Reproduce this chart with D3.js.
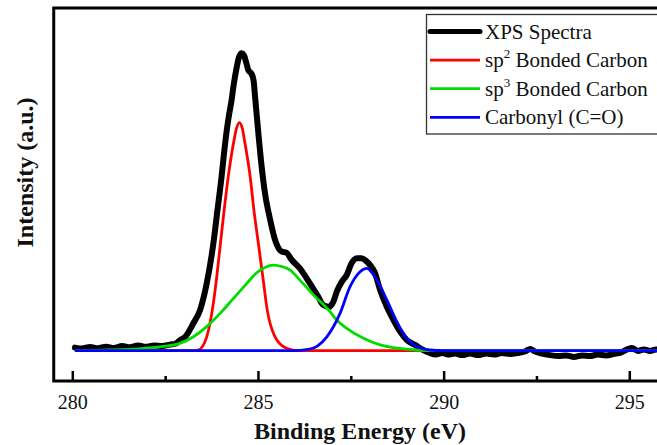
<!DOCTYPE html>
<html>
<head>
<meta charset="utf-8">
<script src="https://cdn.jsdelivr.net/npm/d3@7"></script>
<style>
  html, body { margin: 0; padding: 0; background: #fff; }
  svg { display: block; }
  text { font-family: "Liberation Serif", "Times New Roman", serif; fill: #111; }
</style>
</head>
<body>
<svg id="chart" width="657" height="445"></svg>
<script>
// ---------------- data (energy in eV, intensity in a.u.) ----------------
const xpsSpectrum = [
  [280.07,1.0],[280.26,0.7],[280.48,1.2],[280.69,0.8],[280.91,1.3],[281.12,0.9],[281.34,1.5],
  [281.55,1.1],[281.77,1.7],[281.98,1.3],[282.20,1.7],[282.42,1.5],[282.63,2.0],[282.79,2.4],
  [282.90,3.5],[283.04,4.6],[283.26,9.1],[283.44,13.5],[283.62,22.4],[283.80,35.8],[283.91,46.9],
  [284.02,58.0],[284.09,66.2],[284.16,73.5],[284.22,78.5],[284.29,83.5],[284.35,88.9],[284.43,94.6],
  [284.49,97.9],[284.56,99.1],[284.62,98.5],[284.68,96.2],[284.74,93.5],[284.83,92.2],[284.88,90.2],
  [284.93,83.5],[285.01,72.5],[285.08,63.5],[285.19,52.4],[285.33,43.5],[285.46,36.9],[285.59,33.5],
  [285.67,32.9],[285.76,32.7],[285.91,30.2],[286.13,27.4],[286.29,24.5],[286.46,21.2],[286.62,18.0],
  [286.76,15.2],[286.92,14.6],[287.03,16.3],[287.13,19.9],[287.26,23.0],[287.39,25.2],[287.52,29.1],
  [287.66,30.8],[287.79,30.8],[287.91,29.9],[288.02,28.5],[288.14,26.2],[288.29,20.2],[288.47,14.6],
  [288.65,10.2],[288.83,6.3],[289.01,3.5],[289.23,1.9],[289.45,0.2],[289.63,-0.8],[289.79,-1.3],
  [289.96,-0.8],[290.12,-1.3],[290.31,-1.0],[290.50,-1.5],[290.71,-1.0],[290.93,-1.5],[291.14,-1.0],
  [291.36,-1.3],[291.57,-0.8],[291.79,-1.1],[292.00,-0.8],[292.19,-0.3],[292.33,0.5],[292.46,-0.3],
  [292.65,-1.0],[292.87,-1.5],[293.08,-1.8],[293.30,-1.6],[293.51,-2.1],[293.73,-1.6],[293.94,-1.8],
  [294.16,-1.3],[294.37,-1.6],[294.59,-1.1],[294.78,-0.6],[294.94,0.4],[295.07,0.9],[295.23,-0.1],
  [295.39,0.4],[295.56,-0.1],[295.72,0.4],[295.88,-0.1]
];
const sp2Carbon = [
  [280.07,0],[283.20,0],[283.39,0.2],[283.62,4.6],[283.77,13.5],[283.89,24.6],[283.99,35.8],
  [284.09,46.9],[284.20,58.0],[284.34,69.1],[284.42,74.0],[284.50,76.0],[284.58,74.0],[284.65,69.1],
  [284.79,58.0],[284.89,46.9],[285.01,35.8],[285.13,24.6],[285.25,13.5],[285.46,4.6],[285.77,0.8],
  [286.10,0],[295.90,0]
];
const sp3Carbon = [
  [280.07,0],[281.00,0.2],[281.80,0.6],[282.40,1.3],[282.90,2.4],[283.26,4.6],[283.62,8.0],
  [283.98,12.4],[284.34,17.4],[284.70,22.4],[284.95,25.8],[285.20,27.8],[285.41,28.5],[285.65,28.0],
  [285.86,26.9],[286.13,23.5],[286.50,18.5],[286.94,13.0],[287.12,10.2],[287.39,7.4],[287.84,4.1],
  [288.29,1.9],[288.74,0.8],[289.28,0.2],[290.00,0],[295.90,0]
];
const carbonyl = [
  [280.07,0],[286.00,0],[286.30,0.3],[286.60,1.5],[286.85,4.5],[287.21,12.4],[287.48,21.3],
  [287.75,26.3],[287.93,27.4],[288.20,23.5],[288.47,16.9],[288.74,9.6],[289.01,4.1],[289.28,1.3],
  [289.63,0.2],[290.00,0],[295.90,0]
];
const majorTicks = [280, 285, 290, 295];
const minorTicks = [282.5, 287.5, 292.5];
const seriesNames = ["XPS Spectra", "sp|2| Bonded Carbon", "sp|3| Bonded Carbon", "Carbonyl (C=O)"];
const seriesColors = ["#000000", "#ff0000", "#00dc00", "#0000ff"];
const xTitle = "Binding Energy (eV)";
const yTitle = "Intensity (a.u.)";

// ---------------- scales ----------------
const svg = d3.select("#chart");
svg.append("rect").attr("width", 657).attr("height", 445).attr("fill", "#fff");

const x = d3.scaleLinear().domain([280, 295]).range([72.3, 629.3]);
const y = d3.scaleLinear().domain([-10.13, 114.2]).range([381, 8]);
const xLo = 279.5, xHi = 296.5;

// frame
svg.append("rect")
  .attr("x", x(xLo)).attr("y", y(114.2))
  .attr("width", x(xHi) - x(xLo)).attr("height", y(-10.13) - y(114.2))
  .attr("fill", "none").attr("stroke", "#000").attr("stroke-width", 3);

// axes (ticks pointing inward)
const axMajor = svg.append("g").attr("transform", `translate(0,${y(-10.13)})`)
  .call(d3.axisBottom(x).tickValues(majorTicks).tickSizeInner(-10).tickSizeOuter(0).tickPadding(14)
    .tickFormat(d3.format("d")));
axMajor.select(".domain").remove();
axMajor.selectAll(".tick line").attr("stroke", "#000").attr("stroke-width", 2.5);
axMajor.selectAll(".tick text")
  .attr("font-family", "Liberation Serif, serif").attr("font-size", 20).attr("fill", "#111");

const axMinor = svg.append("g").attr("transform", `translate(0,${y(-10.13)})`)
  .call(d3.axisBottom(x).tickValues(minorTicks).tickSizeInner(-5).tickSizeOuter(0).tickFormat(""));
axMinor.select(".domain").remove();
axMinor.selectAll(".tick line").attr("stroke", "#000").attr("stroke-width", 2.5);

// axis titles
svg.append("text").attr("x", 360).attr("y", 439)
  .attr("text-anchor", "middle").attr("font-weight", "bold").attr("font-size", 24)
  .text(xTitle);
svg.append("text")
  .attr("transform", "translate(33,172.5) rotate(-90)")
  .attr("text-anchor", "middle").attr("font-weight", "bold").attr("font-size", 24)
  .text(yTitle);

// lines
const line = d3.line().x(d => x(d[0])).y(d => y(d[1])).curve(d3.curveMonotoneX);
const plot = svg.append("g");
plot.append("path").datum(xpsSpectrum).attr("d", line)
  .attr("fill", "none").attr("stroke", seriesColors[0]).attr("stroke-width", 6)
  .attr("stroke-linejoin", "round").attr("stroke-linecap", "round");
[sp2Carbon, sp3Carbon, carbonyl].forEach((s, i) => {
  plot.append("path").datum(s).attr("d", line)
    .attr("fill", "none").attr("stroke", seriesColors[i + 1]).attr("stroke-width", 2.8)
    .attr("stroke-linejoin", "round");
});

// legend
const lg = svg.append("g");
lg.append("rect").attr("x", 426.5).attr("y", 14.5).attr("width", 260).attr("height", 119.5)
  .attr("fill", "#fff").attr("stroke", "#333").attr("stroke-width", 1.3);
seriesNames.forEach((name, i) => {
  const cy = 31.5 + i * 28.6;
  lg.append("line").attr("x1", 430).attr("x2", 480).attr("y1", cy).attr("y2", cy)
    .attr("stroke", seriesColors[i]).attr("stroke-width", i === 0 ? 5 : 2.8)
    .attr("stroke-linecap", i === 0 ? "round" : "butt");
  const t = lg.append("text").attr("x", 485).attr("y", cy + 7).attr("font-size", 21);
  const parts = name.split("|");
  if (parts.length === 1) {
    t.text(name);
  } else {
    t.append("tspan").text(parts[0]);
    t.append("tspan").attr("font-size", 13).attr("dy", -9).text(parts[1]);
    t.append("tspan").attr("dy", 9).text(" " + parts[2].trim());
  }
});
</script>
</body>
</html>
